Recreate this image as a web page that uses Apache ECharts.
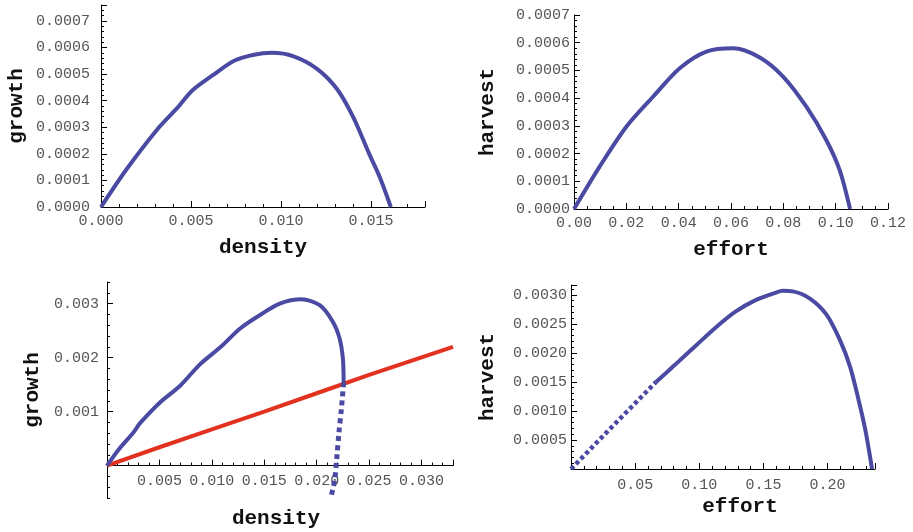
<!DOCTYPE html>
<html>
<head>
<meta charset="utf-8">
<script src="https://cdn.jsdelivr.net/npm/echarts@6/dist/echarts.min.js"></script>
<style>
  html, body { margin: 0; padding: 0; background: #fff; }
  #chart { width: 913px; height: 532px; }
</style>
</head>
<body>
<div id="chart"></div>
<script>
  // top left: growth vs density
  const densityTop = [0, 0.0014, 0.0031, 0.0042, 0.0051, 0.0063, 0.0074, 0.0085, 0.0095, 0.0107, 0.012, 0.0131, 0.014, 0.0149, 0.0155, 0.0161]
  const growthTop = [0, 0.00014, 0.00029, 0.00037, 0.00044, 0.0005, 0.00055, 0.000573, 0.00058, 0.000567, 0.00052, 0.000445, 0.00034, 0.0002, 0.00011, 0]

  // top right: harvest vs effort
  const effortTop = [0, 0.0098, 0.02, 0.0302, 0.0404, 0.0506, 0.0608, 0.071, 0.0799, 0.0888, 0.0964, 0.1015, 0.1055]
  const harvestTop = [0, 0.000153, 0.000297, 0.000405, 0.000508, 0.000568, 0.00058, 0.000547, 0.000478, 0.000369, 0.000249, 0.000141, 0]

  // bottom left: growth curve (solid + dashed part) and red line
  const densitySolid = [0, 0.00108, 0.0025, 0.00317, 0.00505, 0.00698, 0.00889, 0.0108, 0.0127, 0.0146, 0.01648, 0.01854, 0.02029, 0.02155, 0.02219, 0.0225, 0.02257]
  const growthSolid = [0, 0.00029, 0.00061, 0.00079, 0.00117, 0.00148, 0.00188, 0.00219, 0.00254, 0.00279, 0.003, 0.00308, 0.00297, 0.00266, 0.00235, 0.00198, 0.00154]
  const densityDashed = [0.02257, 0.02235, 0.02212, 0.02193, 0.02171, 0.0214]
  const growthDashed = [0.00154, 0.00104, 0.00061, 0.00017, -0.00027, -0.00055]
  const densityRed = [0, 0.005, 0.01, 0.015, 0.02, 0.025, 0.033]
  const growthRed = [0, 0.00034, 0.00067, 0.001, 0.00134, 0.00168, 0.0022]
  const bottomLeftYLabels = [0.001, 0.002, 0.003]

  // bottom right: harvest vs effort (dotted + solid)
  const effortDotted = [0, 0.033, 0.0663]
  const harvestDotted = [0, 0.00075, 0.0015]
  const effortSolid = [0.0663, 0.0808, 0.0966, 0.1124, 0.1282, 0.1439, 0.1597, 0.165, 0.1729, 0.186, 0.1992, 0.2097, 0.2176, 0.2242, 0.2295, 0.2347]
  const harvestSolid = [0.0015, 0.00179, 0.00211, 0.00243, 0.00271, 0.00291, 0.00304, 0.00307, 0.00306, 0.00294, 0.00266, 0.00222, 0.00176, 0.00119, 0.00067, 0]

  const zip = (xs, ys) => xs.map((x, i) => [x, ys[i]])

  const BLUE = '#4a4aa3'
  const RED = '#e2321f'
  const labelFont = { fontFamily: 'Liberation Mono', fontSize: 15, color: '#555' }
  const nameFont = { fontFamily: 'Liberation Mono', fontSize: 21, fontWeight: 'bold', color: '#111' }

  function valueAxis (opts) {
    return Object.assign({
      type: 'value',
      axisLine: { show: true, onZero: true, lineStyle: { color: '#000', width: 1 } },
      axisTick: { show: true, inside: true, length: 6, lineStyle: { color: '#000' } },
      minorTick: { show: true, splitNumber: 5, length: 3, lineStyle: { color: '#000' } },
      splitLine: { show: false },
      nameLocation: 'middle',
      nameTextStyle: nameFont
    }, opts)
  }

  const chart = echarts.init(document.getElementById('chart'), null, { renderer: 'canvas' })

  const options = {
    animation: false,
    grid: [
      { left: 101, top: 5, width: 324, height: 202, containLabel: false, outerBoundsMode: 'none' },
      { left: 574, top: 15, width: 314, height: 194, containLabel: false, outerBoundsMode: 'none' },
      { left: 107, top: 282, width: 346, height: 216, containLabel: false, outerBoundsMode: 'none' },
      { left: 571, top: 285, width: 304, height: 184, containLabel: false, outerBoundsMode: 'none' }
    ],
    xAxis: [
      valueAxis({
        gridIndex: 0, min: 0, max: 0.018, interval: 0.005,
        name: 'density', nameGap: 30,
        axisLabel: Object.assign({ margin: 7, showMaxLabel: false, formatter: v => v.toFixed(3) }, labelFont)
      }),
      valueAxis({
        gridIndex: 1, min: 0, max: 0.12, interval: 0.02,
        minorTick: { show: true, splitNumber: 4, length: 3, lineStyle: { color: '#000' } },
        name: 'effort', nameGap: 30,
        axisLabel: Object.assign({ margin: 7, formatter: v => v.toFixed(2) }, labelFont)
      }),
      valueAxis({
        gridIndex: 2, min: 0, max: 0.033, interval: 0.005,
        name: 'density', nameGap: 10,
        nameTextStyle: Object.assign({ padding: [0, 8, 0, 0] }, nameFont),
        axisLine: { show: true, onZero: true, onZeroAxisIndex: 2, lineStyle: { color: '#000', width: 1 } },
        // labels stay at the grid bottom, pull them up to the zero line
        axisLabel: Object.assign({ margin: -24, showMinLabel: false, showMaxLabel: false, formatter: v => v.toFixed(3) }, labelFont)
      }),
      valueAxis({
        gridIndex: 3, min: 0, max: 0.237, interval: 0.05,
        name: 'effort', nameGap: 27,
        nameTextStyle: Object.assign({ padding: [0, 0, 0, 34] }, nameFont),
        axisLabel: Object.assign({ margin: 9, showMinLabel: false, showMaxLabel: false, formatter: v => v.toFixed(2) }, labelFont)
      })
    ],
    yAxis: [
      valueAxis({
        gridIndex: 0, min: 0, max: 0.00076, interval: 0.0001,
        name: 'growth', nameGap: 74,
        axisLabel: Object.assign({ margin: 11, showMaxLabel: false, formatter: v => v.toFixed(4) }, labelFont)
      }),
      valueAxis({
        gridIndex: 1, min: 0, max: 0.0007, interval: 0.0001,
        name: 'harvest', nameGap: 76,
        axisLabel: Object.assign({ margin: 4, formatter: v => v.toFixed(4) }, labelFont)
      }),
      valueAxis({
        gridIndex: 2, min: -0.0006, max: 0.0034, interval: 0.0002,
        name: 'growth', nameGap: 64,
        axisTick: { show: true, inside: true, length: 3, lineStyle: { color: '#000' } },
        minorTick: { show: false },
        axisLabel: { show: false }
      }),
      valueAxis({
        gridIndex: 3, min: 0, max: 0.00317, interval: 0.0005,
        name: 'harvest', nameGap: 73,
        axisLabel: Object.assign({ margin: 4, showMinLabel: false, showMaxLabel: false, formatter: v => v.toFixed(4) }, labelFont)
      }),
      // overlay axis in bottom-left panel: long ticks and labels only
      valueAxis({
        gridIndex: 2, min: -0.0006, max: 0.0034, interval: 0.0002, position: 'left',
        axisLine: { show: false },
        axisTick: { show: true, inside: true, length: 6, customValues: bottomLeftYLabels, lineStyle: { color: '#000' } },
        minorTick: { show: false },
        axisLabel: Object.assign({ margin: 8, customValues: bottomLeftYLabels, formatter: v => v.toFixed(3) }, labelFont)
      })
    ],
    series: [
      {
        type: 'line', xAxisIndex: 0, yAxisIndex: 0, showSymbol: false, smooth: 0.3,
        lineStyle: { color: BLUE, width: 4 }, data: zip(densityTop, growthTop)
      },
      {
        type: 'line', xAxisIndex: 1, yAxisIndex: 1, showSymbol: false, smooth: 0.3,
        lineStyle: { color: BLUE, width: 4 }, data: zip(effortTop, harvestTop)
      },
      {
        type: 'line', xAxisIndex: 2, yAxisIndex: 2, showSymbol: false,
        lineStyle: { color: RED, width: 4 }, data: zip(densityRed, growthRed)
      },
      {
        type: 'line', xAxisIndex: 2, yAxisIndex: 2, showSymbol: false, smooth: 0.3,
        lineStyle: { color: BLUE, width: 4 }, data: zip(densitySolid, growthSolid)
      },
      {
        type: 'line', xAxisIndex: 2, yAxisIndex: 2, showSymbol: false, smooth: 0.3,
        lineStyle: { color: BLUE, width: 5, type: [5, 4] }, data: zip(densityDashed, growthDashed)
      },
      {
        type: 'line', xAxisIndex: 3, yAxisIndex: 3, showSymbol: false,
        lineStyle: { color: BLUE, width: 4.5, type: [4, 3] }, data: zip(effortDotted, harvestDotted)
      },
      {
        type: 'line', xAxisIndex: 3, yAxisIndex: 3, showSymbol: false, smooth: 0.3,
        lineStyle: { color: BLUE, width: 4 }, data: zip(effortSolid, harvestSolid)
      }
    ]
  }

  chart.setOption(options)
</script>
</body>
</html>
